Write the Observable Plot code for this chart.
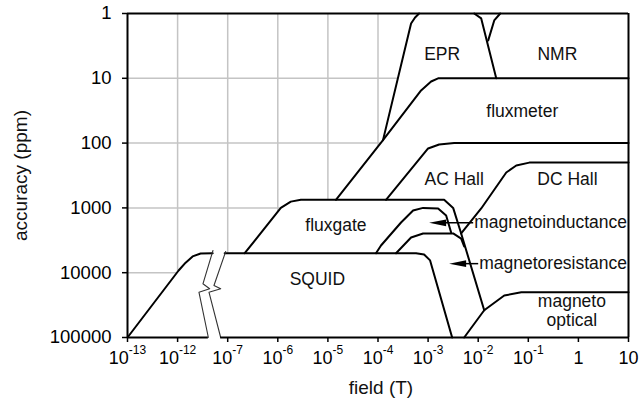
<!DOCTYPE html>
<html><head><meta charset="utf-8">
<script src="https://cdn.jsdelivr.net/npm/d3@7"></script>
<script src="https://cdn.jsdelivr.net/npm/@observablehq/plot@0.6"></script>
<style>body{margin:0;background:#fff}</style>
</head><body><div id="chart"></div>
<script>
// x axis: log10 of field (T), with a break between 1e-12 and 1e-7
const xTickExponents = [-13, -12, -7, -6, -5, -4, -3, -2, -1, 0, 1];
const yTicks = [1, 10, 100, 1000, 10000, 100000];
const gridExponents = [-12, -7, -6, -5, -4];
const gridAccuracy = [10, 100, 1000, 10000];

// boundaries: [log10 field (T), accuracy (ppm)]
const squidLow = [[-13, 100000], [-11.98, 9250], [-11.84, 7000], [-11.7, 5600], [-11.54, 5050], [-11.3, 5000]];
const squid = [[-7.06, 5000], [-3.24, 5000], [-3.08, 5240], [-2.96, 6460], [-2.52, 100000]];
const fluxgate = [[-6.66, 5000], [-5.94, 1000], [-5.74, 800], [-5.54, 750], [-2.68, 750], [-2.5, 1000], [-2.34, 2480], [-1.88, 38000]];
const fluxmeter = [[-4.84, 750], [-3.9, 90], [-3.14, 15.4], [-2.94, 11.2], [-2.8, 10], [1, 10]];
const eprLeft = [[-3.9, 90], [-3.34, 1.43], [-3.26, 1.15], [-3.18, 1]];
const eprRight = [[-2.08, 1], [-1.94, 1.19], [-1.64, 10]];
const nmrLeft = [[-1.8, 2.6], [-1.68, 1.28], [-1.56, 1]];
const acHall = [[-3.84, 750], [-3.0, 121], [-2.78, 105], [-2.48, 100], [1, 100]];
const dcHall = [[-2.34, 2480], [-1.94, 1020], [-1.44, 284], [-1.24, 222], [-0.98, 200], [1, 200]];
const magnetoOptical = [[-2.28, 100000], [-1.88, 38000], [-1.48, 22500], [-1.14, 20000], [1, 20000]];
const magnetoInductance = [[-4.04, 5000], [-3.94, 3800], [-3.54, 1680], [-3.3, 1100], [-3.1, 1000], [-2.8, 1020], [-2.64, 1310], [-2.54, 2400]];
const magnetoResistance = [[-3.64, 5000], [-3.34, 2860], [-3.1, 2480], [-2.5, 2480], [-2.34, 2970], [-2.28, 3940]];
const breakLeft = [[-11.294, 4540], [-11.494, 14830], [-11.36, 17700], [-11.574, 20000], [-11.386, 100000]];
const breakRight = [[-7.04, 4710], [-7.274, 15770], [-7.14, 17700], [-7.374, 20000], [-7.14, 100000]];

const regionLabels = [
  {text: "EPR", e: -2.72, acc: 4.2},
  {text: "NMR", e: -0.42, acc: 4.2},
  {text: "fluxmeter", e: -1.12, acc: 32},
  {text: "AC Hall", e: -2.48, acc: 350},
  {text: "DC Hall", e: -0.22, acc: 350},
  {text: "fluxgate", e: -4.84, acc: 1800},
  {text: "SQUID", e: -5.21, acc: 12500},
  {text: "magneto\noptical", e: -0.13, acc: 38000}
];
const arrowLabels = [
  {text: "magnetoinductance", tipE: -2.98, tailE: -2.1, acc: 1700},
  {text: "magnetoresistance", tipE: -2.58, tailE: -2.0, acc: 7250}
];

// axis position (with break)
const pos = e => e < -9 ? e + 13 : e + 9;
const pts = arr => arr.map(([e, a]) => ({x: pos(e), y: a}));
const xLabel = e => e === 0 ? "1" : e === 1 ? "10" : "10^" + e;
const xLabelByPos = new Map(xTickExponents.map(e => [pos(e), xLabel(e)]));

const envelope = pts([...squidLow, squid[0], ...fluxgate.slice(0, 4), ...fluxmeter.slice(0, 2), ...eprLeft.slice(1), [1, 1]]);

const curveStyle = {x: "x", y: "y", stroke: "#000", strokeWidth: 2, strokeLinejoin: "round", strokeLinecap: "round"};
const curves = [squidLow, squid, fluxgate, fluxmeter, eprLeft, eprRight, nmrLeft, acHall, dcHall, magnetoOptical, magnetoInductance, magnetoResistance];

const arrowHead = {draw(ctx) { ctx.moveTo(0, 0); ctx.lineTo(17, -3.3); ctx.lineTo(17, 3.3); ctx.closePath(); }};

const chart = Plot.plot({
  width: 639, height: 403,
  marginLeft: 127, marginRight: 11, marginTop: 13, marginBottom: 66,
  style: {fontFamily: "'Liberation Sans', Arial, sans-serif", background: "#fff", color: "#000"},
  x: {type: "linear", domain: [0, 10]},
  y: {type: "log", domain: [1, 100000], reverse: true},
  marks: [
    Plot.ruleX(gridExponents.map(pos), {stroke: "#c4c4c4", strokeWidth: 1.5}),
    Plot.ruleY(gridAccuracy, {stroke: "#c4c4c4", strokeWidth: 1.5}),
    Plot.areaY(envelope, {x: "x", y1: 100000, y2: "y", fill: "#fff"}),
    ...curves.map(c => Plot.line(pts(c), curveStyle)),
    Plot.line(pts(breakLeft), {x: "x", y: "y", stroke: "#333", strokeWidth: 1.1}),
    Plot.line(pts(breakRight), {x: "x", y: "y", stroke: "#333", strokeWidth: 1.1}),
    // frame
    Plot.ruleX([0, 10], {y1: 1, y2: 100000, stroke: "#000", strokeWidth: 2}),
    Plot.ruleY([1], {x1: 0, x2: 10, stroke: "#000", strokeWidth: 2}),
    Plot.ruleY([100000, 100000], {x1: [0, pos(-7.14)], x2: [pos(-11.386), 10], stroke: "#000", strokeWidth: 2}),
    // arrows
    Plot.link(arrowLabels, {x1: d => pos(d.tailE), x2: d => pos(d.tipE) + 0.2, y1: "acc", y2: "acc", stroke: "#000", strokeWidth: 1.5}),
    Plot.dot(arrowLabels, {x: d => pos(d.tipE), y: "acc", symbol: arrowHead, fill: "#000", stroke: "none"}),
    Plot.text(arrowLabels, {x: d => pos(d.tailE) + 0.02, y: "acc", text: "text", textAnchor: "start", fontSize: 17.5, fill: "#111"}),
    Plot.text(regionLabels, {x: d => pos(d.e), y: "acc", text: "text", fontSize: 17.5, lineHeight: 1.1, fill: "#111"}),
    // axes
    Plot.axisX(xTickExponents.map(pos), {tickFormat: d => xLabelByPos.get(d), tickSize: 5, tickPadding: 9, fontSize: 18, strokeWidth: 1.5, label: null}),
    Plot.axisY(yTicks, {tickFormat: d => String(d), tickSize: 5, tickPadding: 11, fontSize: 18.5, strokeWidth: 1.5, label: null}),
    Plot.text(["field (T)"], {frameAnchor: "bottom", textAnchor: "middle", lineAnchor: "middle", dy: 50, dx: 3, fontSize: 19, fill: "#111"}),
    Plot.text(["accuracy (ppm)"], {frameAnchor: "left", textAnchor: "middle", lineAnchor: "middle", dx: -107, rotate: -90, fontSize: 19, fill: "#111"})
  ]
});

// superscripts on x tick labels
chart.querySelectorAll('g[aria-label="x-axis tick label"] text').forEach(t => {
  const s = t.textContent;
  if (s.includes("^")) {
    const [base, exp] = s.split("^");
    t.textContent = "";
    const ns = "http://www.w3.org/2000/svg";
    const a = document.createElementNS(ns, "tspan"); a.textContent = base; t.appendChild(a);
    const b = document.createElementNS(ns, "tspan"); b.textContent = exp;
    b.setAttribute("dy", "-10"); b.setAttribute("font-size", "12"); t.appendChild(b);
  }
});
document.getElementById("chart").appendChild(chart);
</script>
</body></html>
